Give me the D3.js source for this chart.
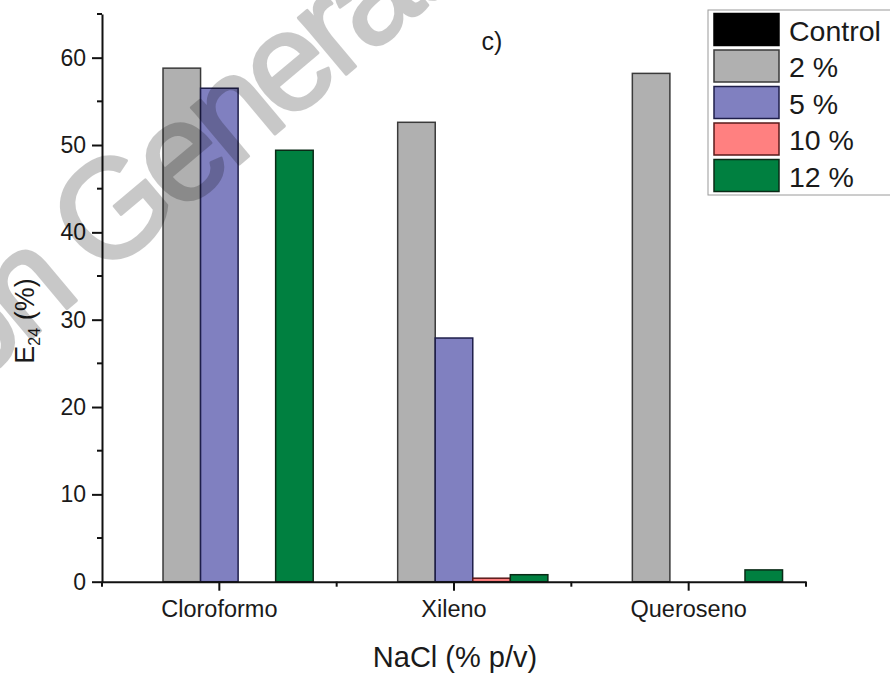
<!DOCTYPE html>
<html>
<head>
<meta charset="utf-8">
<script src="https://cdn.jsdelivr.net/npm/d3@7"></script>
<style>
  html, body { margin: 0; padding: 0; background: #fff; }
  svg { display: block; }
  text { font-family: "Liberation Sans", Arial, sans-serif; fill: #1a1a1a; }
</style>
</head>
<body>
<svg id="chart" width="890" height="677"></svg>
<script>
// Solvents tested and NaCl concentrations
const categories = ["Cloroformo", "Xileno", "Queroseno"];
const seriesNames = ["Control", "2 %", "5 %", "10 %", "12 %"];

// E24 (%) per solvent for each NaCl level
const control = [0, 0, 0];
const nacl2 = [58.8, 52.6, 58.2];
const nacl5 = [56.5, 27.9, 0];
const nacl10 = [0, 0.4, 0];
const nacl12 = [49.4, 0.8, 1.35];

const yTicks = [0, 10, 20, 30, 40, 50, 60];
const yMinorTicks = [5, 15, 25, 35, 45, 55, 65];

const fills = ["#000000", "#b0b0b0", "#8080c0", "#ff8080", "#008040"];
const strokes = ["#000000", "#3a3a3a", "#1e1e4a", "#5a1a1a", "#0a2a16"];

const seriesValues = [control, nacl2, nacl5, nacl10, nacl12];

const svg = d3.select("#chart");

const x0 = d3.scaleBand().domain(categories).range([102, 806]).paddingInner(0).paddingOuter(0);
const groupInset = x0.bandwidth() * 0.1;
const x1 = d3.scaleBand().domain(seriesNames).range([0, x0.bandwidth() * 0.8]).padding(0);
const y = d3.scaleLinear().domain([0, 65]).range([581.7, 14]);

// Bars
const barData = [];
seriesNames.forEach((s, si) => {
  categories.forEach((c, ci) => {
    const v = seriesValues[si][ci];
    if (v > 0) barData.push({ s, si, c, v });
  });
});

svg.append("g").selectAll("rect").data(barData).join("rect")
  .attr("x", d => x0(d.c) + groupInset + x1(d.s))
  .attr("y", d => y(d.v))
  .attr("width", x1.bandwidth())
  .attr("height", d => y(0) - y(d.v))
  .attr("fill", d => fills[d.si])
  .attr("stroke", d => strokes[d.si])
  .attr("stroke-width", 1.5);

// Y axis
const yAxis = svg.append("g").attr("transform", "translate(102,0)")
  .call(d3.axisLeft(y).tickValues(yTicks).tickSize(10).tickPadding(6).tickSizeOuter(0));
yAxis.select(".domain").attr("stroke", "#111").attr("stroke-width", 2);
yAxis.selectAll(".tick line").attr("stroke", "#111").attr("stroke-width", 2);
yAxis.selectAll(".tick text").style("font-size", "23px").attr("font-family", null).attr("fill", "#1a1a1a");
yAxis.append("g").selectAll("line").data(yMinorTicks).join("line")
  .attr("x1", -5).attr("x2", 0).attr("y1", d => y(d)).attr("y2", d => y(d))
  .attr("stroke", "#111").attr("stroke-width", 2);

// X axis
const xAxis = svg.append("g").attr("transform", `translate(0,${y(0)})`)
  .call(d3.axisBottom(x0).tickSize(9).tickPadding(10).tickSizeOuter(0));
xAxis.select(".domain").attr("stroke", "#111").attr("stroke-width", 2);
xAxis.selectAll(".tick line").attr("stroke", "#111").attr("stroke-width", 2);
xAxis.selectAll(".tick text").style("font-size", "23.5px").attr("font-family", null).attr("fill", "#1a1a1a");
const boundaries = [categories[0], ...categories].map((c, i) => i === 0 ? x0(c) : x0(c) + x0.bandwidth());
xAxis.append("g").selectAll("line").data(boundaries).join("line")
  .attr("x1", d => d).attr("x2", d => d).attr("y1", 0).attr("y2", 5)
  .attr("stroke", "#111").attr("stroke-width", 2);

// Axis titles
svg.append("text")
  .attr("x", 455).attr("y", 667)
  .attr("text-anchor", "middle")
  .style("font-size", "29px")
  .text("NaCl (% p/v)");

const yTitle = svg.append("text")
  .attr("transform", "translate(34,321) rotate(-90)")
  .attr("text-anchor", "middle")
  .style("font-size", "27px");
yTitle.append("tspan").text("E");
yTitle.append("tspan").attr("dy", 6).style("font-size", "16px").text("24");
yTitle.append("tspan").attr("dy", -6).text(" (%)");

// Panel label
svg.append("text")
  .attr("x", 492).attr("y", 50)
  .attr("text-anchor", "middle")
  .style("font-size", "25px")
  .text("c)");

// Legend
const legend = svg.append("g");
legend.append("rect")
  .attr("x", 708).attr("y", 10).attr("width", 200).attr("height", 185)
  .attr("fill", "#fff").attr("stroke", "#9a9a9a").attr("stroke-width", 1);
const rows = legend.selectAll("g.row").data(seriesNames).join("g")
  .attr("class", "row")
  .attr("transform", (d, i) => `translate(714,${13.5 + i * 36.5})`);
rows.append("rect")
  .attr("width", 65).attr("height", 32)
  .attr("fill", (d, i) => fills[i])
  .attr("stroke", (d, i) => strokes[i])
  .attr("stroke-width", 1.5);
rows.append("text")
  .attr("x", 75).attr("y", 27)
  .style("font-size", "28.5px")
  .text(d => d);

// Diagonal watermark lettering laid over the plot
const wmText = "Version Generated";
const wm = svg.append("text")
  .attr("transform", "translate(101,280) rotate(-40)")
  .style("font-size", "140px")
  .style("letter-spacing", "-8px")
  .style("fill", "#000")
  .style("stroke", "#000")
  .style("stroke-width", 3)
  .style("stroke-linejoin", "round")
  .style("opacity", 0.21)
  .text(wmText);
const prefix = wm.node().getSubStringLength(0, wmText.indexOf("G"));
wm.attr("x", -prefix);
</script>
</body>
</html>
